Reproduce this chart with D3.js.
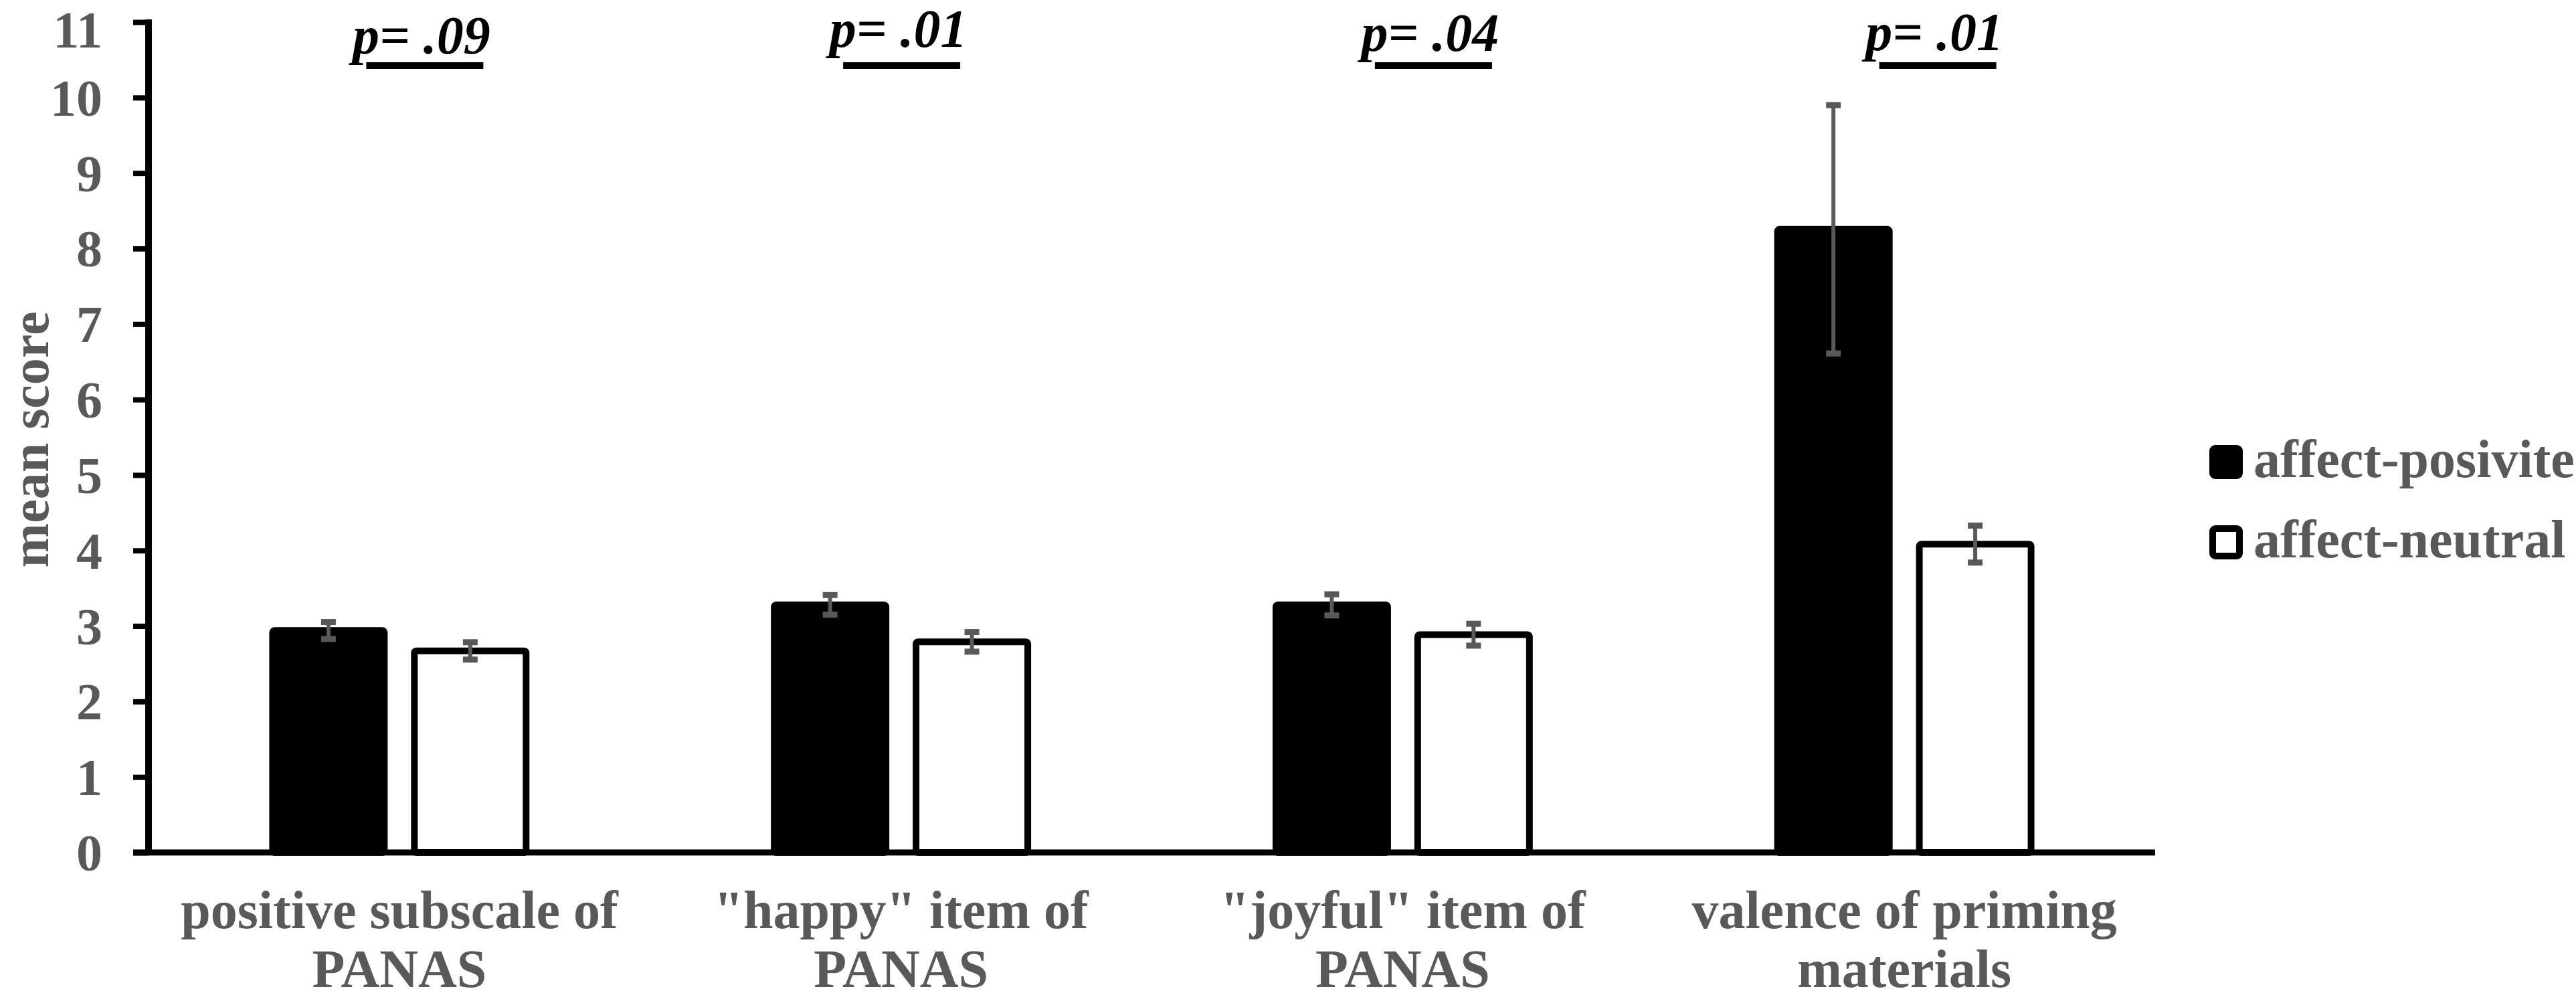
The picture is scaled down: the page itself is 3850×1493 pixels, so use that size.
<!DOCTYPE html>
<html>
<head>
<meta charset="utf-8">
<script src="https://cdn.jsdelivr.net/npm/d3@7"></script>
<style>
  html, body { margin: 0; padding: 0; background: #ffffff; }
  svg { display: block; }
</style>
</head>
<body>
<svg id="chart" width="3850" height="1493"></svg>
<script>
// ---------------- data ----------------
const categories = ["positive subscale of PANAS", "\"happy\" item of PANAS", "\"joyful\" item of PANAS", "valence of priming materials"];
const categoryLines = [["positive subscale of", "PANAS"], ["\"happy\" item of", "PANAS"], ["\"joyful\" item of", "PANAS"], ["valence of priming", "materials"]];
const seriesNames = ["affect-posivite", "affect-neutral"];
const positiveMeans = [2.94, 3.28, 3.28, 8.255];
const positiveErrors = [0.113, 0.13, 0.14, 1.645];
const neutralMeans = [2.67, 2.79, 2.885, 4.085];
const neutralErrors = [0.115, 0.13, 0.145, 0.245];
const pLabels = ["p= .09", "p= .01", "p= .04", "p= .01"];
const yTicks = [0, 1, 2, 3, 4, 5, 6, 7, 8, 9, 10, 11];
const yTitle = "mean score";

// ---------------- layout / style ----------------
const W = 3850, H = 1493;
const plot = { left: 222, right: 3221, top: 33, bottom: 1274 };
const FONT = "'Liberation Serif', 'Times New Roman', serif";
const GRAY = "#595959";
const pShiftX = [33, -4, 41, 45];
const pBaseline = [80, 70, 76, 75];

const svg = d3.select("#chart");

const x = d3.scaleBand().domain(categories).range([plot.left, plot.right]).paddingInner(0).paddingOuter(0);
const xs = d3.scaleBand().domain(seriesNames).range([0, x.bandwidth()]).paddingInner(0.212).paddingOuter(0.875);
const y = d3.scaleLinear().domain([0, 11]).range([plot.bottom, plot.top]);

const seriesFill = d3.scaleOrdinal().domain(seriesNames).range(["#000000", "#ffffff"]);

const rows = categories.map((c, i) => ({
  cat: c,
  vals: [
    { s: seriesNames[0], m: positiveMeans[i], e: positiveErrors[i] },
    { s: seriesNames[1], m: neutralMeans[i], e: neutralErrors[i] }
  ]
}));

// bars
const groups = svg.append("g").selectAll("g").data(rows).join("g")
  .attr("transform", d => `translate(${x(d.cat)},0)`);

groups.selectAll("rect").data(d => d.vals).join("rect")
  .attr("x", d => xs(d.s))
  .attr("width", xs.bandwidth())
  .attr("y", d => y(d.m))
  .attr("height", d => y(0) - y(d.m))
  .attr("rx", 3)
  .attr("fill", d => seriesFill(d.s))
  .attr("stroke", "#000")
  .attr("stroke-width", 10);

// error bars
const eb = groups.selectAll("g.err").data(d => d.vals).join("g").attr("class", "err");
eb.append("line")
  .attr("x1", d => xs(d.s) + xs.bandwidth() / 2)
  .attr("x2", d => xs(d.s) + xs.bandwidth() / 2)
  .attr("y1", d => y(d.m + d.e))
  .attr("y2", d => y(d.m - d.e))
  .attr("stroke", GRAY).attr("stroke-width", 6);
eb.selectAll("rect.cap").data(d => [d.m + d.e, d.m - d.e].map(v => ({ v, s: d.s }))).join("rect")
  .attr("class", "cap")
  .attr("x", d => xs(d.s) + xs.bandwidth() / 2 - 11)
  .attr("width", 22)
  .attr("y", d => y(d.v) - 4.5)
  .attr("height", 9)
  .attr("fill", GRAY);

// y axis
const yAxis = svg.append("g")
  .attr("transform", `translate(${plot.left},0)`)
  .call(d3.axisLeft(y).tickValues(yTicks).tickFormat(d3.format("d")).tickSize(23).tickSizeOuter(0).tickPadding(46));
yAxis.select(".domain").attr("stroke", "#000").attr("stroke-width", 10)
  .attr("d", `M0,${y(11) - 4}V${y(0)}`);
yAxis.selectAll(".tick line").attr("stroke", "#000").attr("stroke-width", 8);
yAxis.selectAll(".tick text")
  .attr("fill", GRAY)
  .style("font-family", FONT).style("font-weight", "bold").style("font-size", "78px")
  .attr("dy", d => d === 11 ? "0.48em" : "0.34em");

// x axis
const xAxis = svg.append("g")
  .attr("transform", `translate(0,${plot.bottom})`)
  .call(d3.axisBottom(x).tickSize(0).tickFormat(""));
xAxis.select(".domain").attr("stroke", "#000").attr("stroke-width", 9)
  .attr("d", `M${plot.left - 23},0H${plot.right}`);

// category labels
const catG = svg.append("g").selectAll("text").data(categories).join("text")
  .attr("x", d => x(d) + x.bandwidth() / 2)
  .attr("y", 1387)
  .attr("text-anchor", "middle")
  .attr("fill", GRAY)
  .style("font-family", FONT).style("font-weight", "bold").style("font-size", "80px");
catG.selectAll("tspan").data((d, i) => categoryLines[i]).join("tspan")
  .attr("x", function () { return d3.select(this.parentNode).attr("x"); })
  .attr("dy", (d, i) => i === 0 ? 0 : 88)
  .text(d => d);

// y title
svg.append("text")
  .attr("transform", `translate(72,657) rotate(-90)`)
  .attr("text-anchor", "middle")
  .attr("fill", GRAY)
  .style("font-family", FONT).style("font-weight", "bold").style("font-size", "80px")
  .text(yTitle);

// p-value labels with underline
const pG = svg.append("g").selectAll("g").data(categories).join("g");
pG.append("text")
  .attr("x", (d, i) => x(d) + x.bandwidth() / 2 + pShiftX[i])
  .attr("y", (d, i) => pBaseline[i])
  .attr("text-anchor", "middle")
  .attr("fill", "#000")
  .style("font-family", FONT).style("font-weight", "bold").style("font-style", "italic").style("font-size", "80px")
  .text((d, i) => pLabels[i]);
pG.append("line")
  .attr("x1", (d, i) => x(d) + x.bandwidth() / 2 + pShiftX[i] + 5 - 87.5)
  .attr("x2", (d, i) => x(d) + x.bandwidth() / 2 + pShiftX[i] + 5 + 87.5)
  .attr("y1", 98).attr("y2", 98)
  .attr("stroke", "#000").attr("stroke-width", 10);

// legend
const legend = svg.append("g").attr("transform", "translate(3307,670)");
const li = legend.selectAll("g").data(seriesNames).join("g")
  .attr("transform", (d, i) => `translate(0,${i * 120})`);
li.append("rect")
  .attr("width", 40).attr("height", 41).attr("rx", 4)
  .attr("fill", d => seriesFill(d)).attr("stroke", "#000").attr("stroke-width", 10);
li.append("text")
  .attr("x", 61).attr("y", 43)
  .attr("fill", GRAY)
  .style("font-family", FONT).style("font-weight", "bold").style("font-size", "80px")
  .text(d => d);
</script>
</body>
</html>
